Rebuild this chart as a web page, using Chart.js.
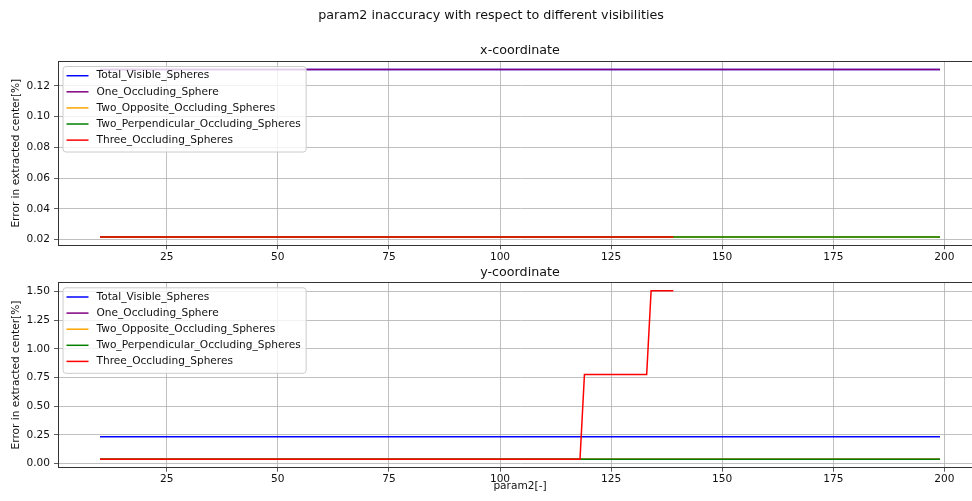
<!DOCTYPE html>
<html>
<head>
<meta charset="utf-8">
<script src="https://cdn.jsdelivr.net/npm/chart.js@4.4.1/dist/chart.umd.min.js"></script>
<style>
  html, body { margin: 0; padding: 0; background: #fff; overflow: hidden; width: 972px; height: 501px; }
  canvas { position: absolute; left: 0; }
  #chartX { top: 0; }
  #chartY { top: 250px; }
</style>
</head>
<body>
<canvas id="chartX" width="1008" height="270"></canvas>
<canvas id="chartY" width="1008" height="251"></canvas>
<script>
/* DATA */
const seriesNames = ["Total_Visible_Spheres", "One_Occluding_Sphere", "Two_Opposite_Occluding_Spheres",
  "Two_Perpendicular_Occluding_Spheres", "Three_Occluding_Spheres"];
const seriesColors = ["#0000ff", "#800080", "#ffa500", "#008000", "#ff0000"];

const param2Full = [10, 199];
const param2Three = [10, 118, 119, 133, 134, 139];

// x-coordinate error
const xTotal = [0.1306, 0.1306];
const xOne = [0.1306, 0.1306];
const xOpposite = [0.0217, 0.0217];
const xPerp = [0.0217, 0.0217];
const xThree = [0.0217, 0.0217, 0.0217, 0.0217, 0.0217, 0.0217];

// y-coordinate error
const yTotal = [0.234, 0.234];
const yOne = [0.038, 0.038];
const yOpposite = [0.038, 0.038];
const yPerp = [0.038, 0.038];
const yThree = [0.038, 0.038, 0.777, 0.777, 1.506, 1.506];

const xTicks = [25, 50, 75, 100, 125, 150, 175, 200];
const yTicksTop = [0.02, 0.04, 0.06, 0.08, 0.10, 0.12];
const yTicksBottom = [0, 0.25, 0.5, 0.75, 1.0, 1.25, 1.5];

const SMALL = 10.6, LARGE = 12.7;

Chart.defaults.font.family = "'DejaVu Sans', sans-serif";
Chart.defaults.font.size = SMALL;
Chart.defaults.color = "#111";

const toPoints = function (xs, ys) {
  return xs.map((x, i) => ({ x: x, y: ys[i] }));
}

// later series are drawn on top, like matplotlib
const buildDatasets = function (xsList, ysList) {
  return seriesNames.map((name, i) => ({
    label: name,
    data: toPoints(xsList[i], ysList[i]),
    borderColor: seriesColors[i],
    backgroundColor: seriesColors[i],
    borderWidth: 1.5,
    pointRadius: 0,
    tension: 0,
    fill: false,
    order: seriesNames.length - 1 - i
  }));
}

/** frame (all four spines) + legend box inside the axes */
const framePlugin = {
  id: "frame",
  afterDatasetsDraw(chart) {
    const a = chart.chartArea, ctx = chart.ctx;
    ctx.save();
    ctx.strokeStyle = "#333";
    ctx.lineWidth = 1;
    ctx.strokeRect(Math.round(a.left) + 0.5, Math.round(a.top) + 0.5,
      Math.round(a.right - a.left), Math.round(a.bottom - a.top));
    ctx.restore();
  },
  afterDraw(chart) {
    const a = chart.chartArea, ctx = chart.ctx;
    const sets = chart.data.datasets;
    ctx.save();
    ctx.font = SMALL + "px 'DejaVu Sans'";
    let maxW = 0;
    sets.forEach(d => { maxW = Math.max(maxW, ctx.measureText(d.label).width); });
    const bx = a.left + 4.5, by = a.top + 5;
    const bw = 34 + maxW + 5, bh = sets.length * 16.1 + 5;
    ctx.beginPath();
    ctx.roundRect(bx + 0.5, by + 0.5, bw, bh, 3);
    ctx.fillStyle = "rgba(255,255,255,0.8)";
    ctx.fill();
    ctx.strokeStyle = "#cccccc";
    ctx.lineWidth = 1;
    ctx.stroke();
    sets.forEach((d, i) => {
      const cy = by + 9.7 + i * 16.1;
      ctx.beginPath();
      ctx.moveTo(bx + 4, cy);
      ctx.lineTo(bx + 26, cy);
      ctx.strokeStyle = d.borderColor;
      ctx.lineWidth = 1.5;
      ctx.stroke();
      ctx.fillStyle = "#111";
      ctx.textBaseline = "middle";
      ctx.fillText(d.label, bx + 34, cy);
    });
    ctx.restore();
  }
};

const makeOptions = function (cfg) {
  return {
    responsive: false,
    animation: false,
    events: [],
    layout: { padding: { top: 0, right: 26, bottom: 0, left: 0 } },
    plugins: {
      legend: { display: false },
      tooltip: { enabled: false },
      title: cfg.title,
      subtitle: cfg.subtitle
    },
    scales: {
      x: {
        type: "linear",
        min: 0.55,
        max: 208.45,
        afterBuildTicks: s => { s.ticks = xTicks.map(v => ({ value: v })); },
        afterFit: s => { s.height = cfg.xHeight; },
        grid: { color: "#b0b0b0", lineWidth: 0.8, tickColor: "#333", tickLength: 4 },
        border: { color: "#333", width: 1 },
        ticks: { padding: 1.3, color: "#111", callback: v => String(v), maxRotation: 0, autoSkip: false },
        title: cfg.xTitle
      },
      y: {
        type: "linear",
        min: cfg.yMin,
        max: cfg.yMax,
        afterBuildTicks: s => { s.ticks = cfg.yTicks.map(v => ({ value: v })); },
        afterFit: s => { s.width = 58; },
        grid: { color: "#b0b0b0", lineWidth: 0.8, tickColor: "#333", tickLength: 4 },
        border: { color: "#333", width: 1 },
        ticks: { padding: 4, color: "#111", callback: v => Number(v).toFixed(2), autoSkip: false },
        title: {
          display: true,
          text: "Error in extracted center[%]",
          color: "#111",
          font: { size: SMALL },
          padding: { top: 9.6, bottom: 0 }
        }
      }
    }
  };
}

new Chart(document.getElementById("chartX"), {
  type: "line",
  data: {
    datasets: buildDatasets(
      [param2Full, param2Full, param2Full, param2Full, param2Three],
      [xTotal, xOne, xOpposite, xPerp, xThree])
  },
  options: makeOptions({
    title: {
      display: true,
      text: "param2 inaccuracy with respect to different visibilities",
      color: "#111",
      font: { size: LARGE, weight: "normal" },
      padding: { top: 8.4, bottom: 13 }
    },
    subtitle: {
      display: true,
      text: "x-coordinate",
      color: "#111",
      fullSize: false,
      font: { size: LARGE, weight: "normal" },
      padding: { top: 6.74, bottom: 2.4 }
    },
    xHeight: 24.7,
    xTitle: { display: false },
    yMin: 0.0163,
    yMax: 0.1361,
    yTicks: yTicksTop
  }),
  plugins: [framePlugin]
});

new Chart(document.getElementById("chartY"), {
  type: "line",
  data: {
    datasets: buildDatasets(
      [param2Full, param2Full, param2Full, param2Full, param2Three],
      [yTotal, yOne, yOpposite, yPerp, yThree])
  },
  options: makeOptions({
    title: {
      display: true,
      text: "y-coordinate",
      color: "#111",
      fullSize: false,
      font: { size: LARGE, weight: "normal" },
      padding: { top: 15.4, bottom: 1.66 }
    },
    subtitle: { display: false },
    xHeight: 33.3,
    xTitle: {
      display: true,
      text: "param2[-]",
      color: "#111",
      font: { size: SMALL },
      padding: { top: 0, bottom: 8.6 }
    },
    yMin: -0.0353,
    yMax: 1.5793,
    yTicks: yTicksBottom
  }),
  plugins: [framePlugin]
});
</script>
</body>
</html>
